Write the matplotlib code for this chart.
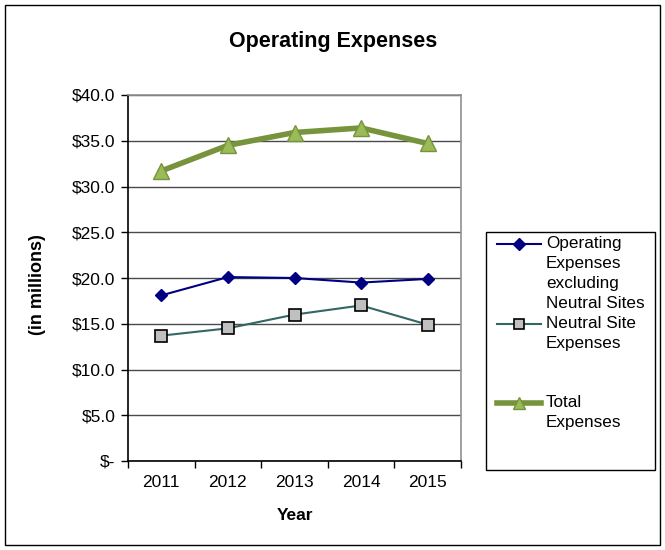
import matplotlib.pyplot as plt
from matplotlib.lines import Line2D
from matplotlib.patches import Rectangle

plt.rcParams['font.family'] = ['Liberation Sans', 'DejaVu Sans']

years = ['2011', '2012', '2013', '2014', '2015']
operating_excl = [18.1, 20.1, 20.0, 19.5, 19.9]
neutral_site = [13.7, 14.5, 16.0, 17.0, 14.9]
total_expenses = [31.7, 34.5, 35.9, 36.4, 34.7]
y_ticks = [0, 5, 10, 15, 20, 25, 30, 35, 40]
y_labels = ['$-', '$5.0', '$10.0', '$15.0', '$20.0', '$25.0', '$30.0', '$35.0', '$40.0']
legend_labels = ['Operating\nExpenses\nexcluding\nNeutral Sites',
                 'Neutral Site\nExpenses',
                 'Total\nExpenses']

fig = plt.figure(figsize=(6.65, 5.5), dpi=100)
fig.patches.append(Rectangle((5/665, 5/550), 655/665, 540/550, transform=fig.transFigure,
                             fill=False, edgecolor='black', linewidth=1))

ax = fig.add_axes([128/665, 1-461/550, 333/665, 366/550])
x = list(range(len(years)))

ax.plot(x, operating_excl, color='#000080', linewidth=1.5, marker='D', markersize=6,
        markerfacecolor='#000080', markeredgecolor='#000080', zorder=3)
ax.plot(x, neutral_site, color='#336666', linewidth=1.5, marker='s', markersize=8,
        markerfacecolor='#c0c0c0', markeredgecolor='black', markeredgewidth=1.2, zorder=3)
ax.plot(x, total_expenses, color='#77933c', linewidth=4, marker='^', markersize=12,
        markerfacecolor='#9bbb59', markeredgecolor='#77933c', markeredgewidth=1, zorder=4)

ax.set_xlim(-0.5, len(years) - 0.5)
ax.set_ylim(0, 40)
ax.set_yticks(y_ticks)
ax.set_yticklabels(y_labels, fontsize=12.5)
ax.set_xticks(x)
ax.set_xticklabels(years, fontsize=12.5)
ax.set_xticks([i - 0.5 for i in range(len(years) + 1)], minor=True)
ax.tick_params(axis='x', which='major', length=0, pad=10)
ax.tick_params(axis='x', which='minor', length=5, direction='out', width=1)
ax.tick_params(axis='y', length=5, direction='out', width=1, pad=4)
ax.yaxis.grid(True, color='#4a4a4a', linewidth=1)
ax.set_axisbelow(True)
for s in ['top', 'right']:
    ax.spines[s].set_color('#909090')
    ax.spines[s].set_linewidth(1.2)
for s in ['left', 'bottom']:
    ax.spines[s].set_color('black')
    ax.spines[s].set_linewidth(1.2)

fig.text(295/665, 1-516/550, 'Year', fontsize=12.5, fontweight='bold',
         ha='center', va='center')
fig.text(38/665, 1-285/550, '(in millions)', rotation=90, fontsize=13, fontweight='bold',
         ha='center', va='center')
fig.text(333/665, 1-42/550, 'Operating Expenses', fontsize=15.5, fontweight='bold',
         ha='center', va='center')

# legend box drawn like Excel: each entry gets four lines of room
fig.patches.append(Rectangle((486/665, 1-470/550), 169/665, 238/550, transform=fig.transFigure,
                             fill=False, edgecolor='black', linewidth=1))
styles = [
    dict(color='#000080', linewidth=1.5, marker='D', markersize=6,
         markerfacecolor='#000080', markeredgecolor='#000080'),
    dict(color='#336666', linewidth=1.5, marker='s', markersize=7,
         markerfacecolor='#c0c0c0', markeredgecolor='black', markeredgewidth=1.2),
    dict(color='#77933c', linewidth=4, marker='^', markersize=9,
         markerfacecolor='#9bbb59', markeredgecolor='#77933c'),
]
for i, (lab, st) in enumerate(zip(legend_labels, styles)):
    yy = 1 - (244 + i * 79.5) / 550
    fig.add_artist(Line2D([497/665, 519/665, 541/665], [yy, yy, yy],
                          transform=fig.transFigure, markevery=[1], **st))
    fig.text(546/665, yy + 8/550, lab, fontsize=12.3, ha='left', va='top', linespacing=1.42)

fig.savefig('out.png', dpi=100)
